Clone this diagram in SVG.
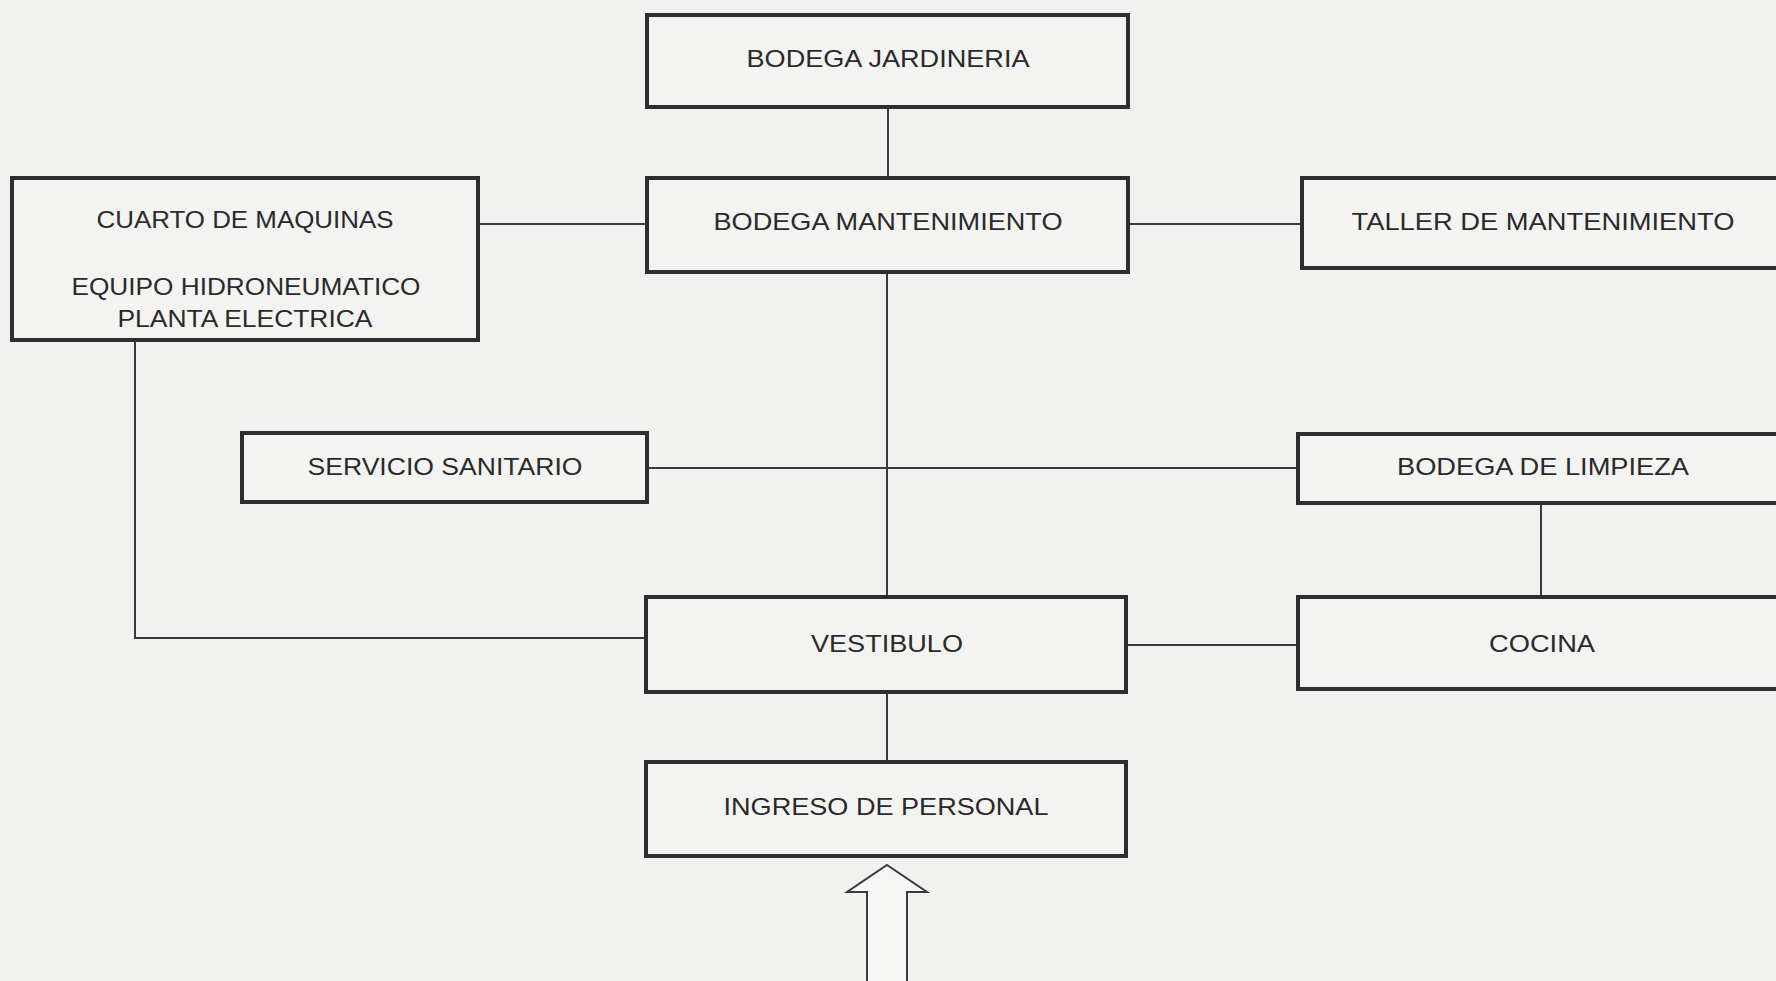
<svg xmlns="http://www.w3.org/2000/svg" width="1776" height="981" viewBox="0 0 1776 981">
<style>
.box{fill:#f3f3f1;stroke:#2e2e2e;stroke-width:4}
.lbl{font-family:"Liberation Sans",Arial,sans-serif;font-size:24px;fill:#2a2a2a;text-anchor:middle}
.con{stroke:#3a3a3a;stroke-width:2;fill:none}
</style>
<rect x="0" y="0" width="1776" height="981" fill="#f1f1ef"/>
<g id="connectors">
<line class="con" x1="888" y1="107" x2="888" y2="178"/>
<line class="con" x1="478" y1="224" x2="647" y2="224"/>
<line class="con" x1="1128" y1="224" x2="1302" y2="224"/>
<line class="con" x1="887" y1="272" x2="887" y2="597"/>
<line class="con" x1="647" y1="468" x2="1298" y2="468"/>
<polyline class="con" points="135,340 135,638 646,638"/>
<line class="con" x1="1126" y1="645" x2="1298" y2="645"/>
<line class="con" x1="1541" y1="503" x2="1541" y2="597"/>
<line class="con" x1="887" y1="692" x2="887" y2="762"/>
</g>
<g id="bodega-jardineria"><rect class="box" x="647" y="15" width="481" height="92"/><text class="lbl" x="888" y="67" textLength="283" lengthAdjust="spacingAndGlyphs">BODEGA JARDINERIA</text></g>
<g id="bodega-mantenimiento"><rect class="box" x="647" y="178" width="481" height="94"/><text class="lbl" x="888" y="230" textLength="349" lengthAdjust="spacingAndGlyphs">BODEGA MANTENIMIENTO</text></g>
<g id="cuarto-maquinas"><rect class="box" x="12" y="178" width="466" height="162"/><text class="lbl" x="245" y="228" textLength="297" lengthAdjust="spacingAndGlyphs">CUARTO DE MAQUINAS</text><text class="lbl" x="246" y="295" textLength="349" lengthAdjust="spacingAndGlyphs">EQUIPO HIDRONEUMATICO</text><text class="lbl" x="245" y="327" textLength="255" lengthAdjust="spacingAndGlyphs">PLANTA ELECTRICA</text></g>
<g id="taller-mantenimiento"><rect class="box" x="1302" y="178" width="490" height="90"/><text class="lbl" x="1543" y="230" textLength="383" lengthAdjust="spacingAndGlyphs">TALLER DE MANTENIMIENTO</text></g>
<g id="servicio-sanitario"><rect class="box" x="242" y="433" width="405" height="69"/><text class="lbl" x="445" y="475" textLength="275" lengthAdjust="spacingAndGlyphs">SERVICIO SANITARIO</text></g>
<g id="bodega-limpieza"><rect class="box" x="1298" y="434" width="494" height="69"/><text class="lbl" x="1543" y="475" textLength="292" lengthAdjust="spacingAndGlyphs">BODEGA DE LIMPIEZA</text></g>
<g id="vestibulo"><rect class="box" x="646" y="597" width="480" height="95"/><text class="lbl" x="887" y="652" textLength="152" lengthAdjust="spacingAndGlyphs">VESTIBULO</text></g>
<g id="cocina"><rect class="box" x="1298" y="597" width="494" height="92"/><text class="lbl" x="1542" y="652" textLength="106" lengthAdjust="spacingAndGlyphs">COCINA</text></g>
<g id="ingreso-personal"><rect class="box" x="646" y="762" width="480" height="94"/><text class="lbl" x="886" y="815" textLength="325" lengthAdjust="spacingAndGlyphs">INGRESO DE PERSONAL</text></g>
<g id="entrada-flecha"><polygon points="887,865 927,892 907,892 907,990 867,990 867,892 847,892" fill="#f6f6f4" stroke="#3a3a3a" stroke-width="2"/></g>
</svg>
